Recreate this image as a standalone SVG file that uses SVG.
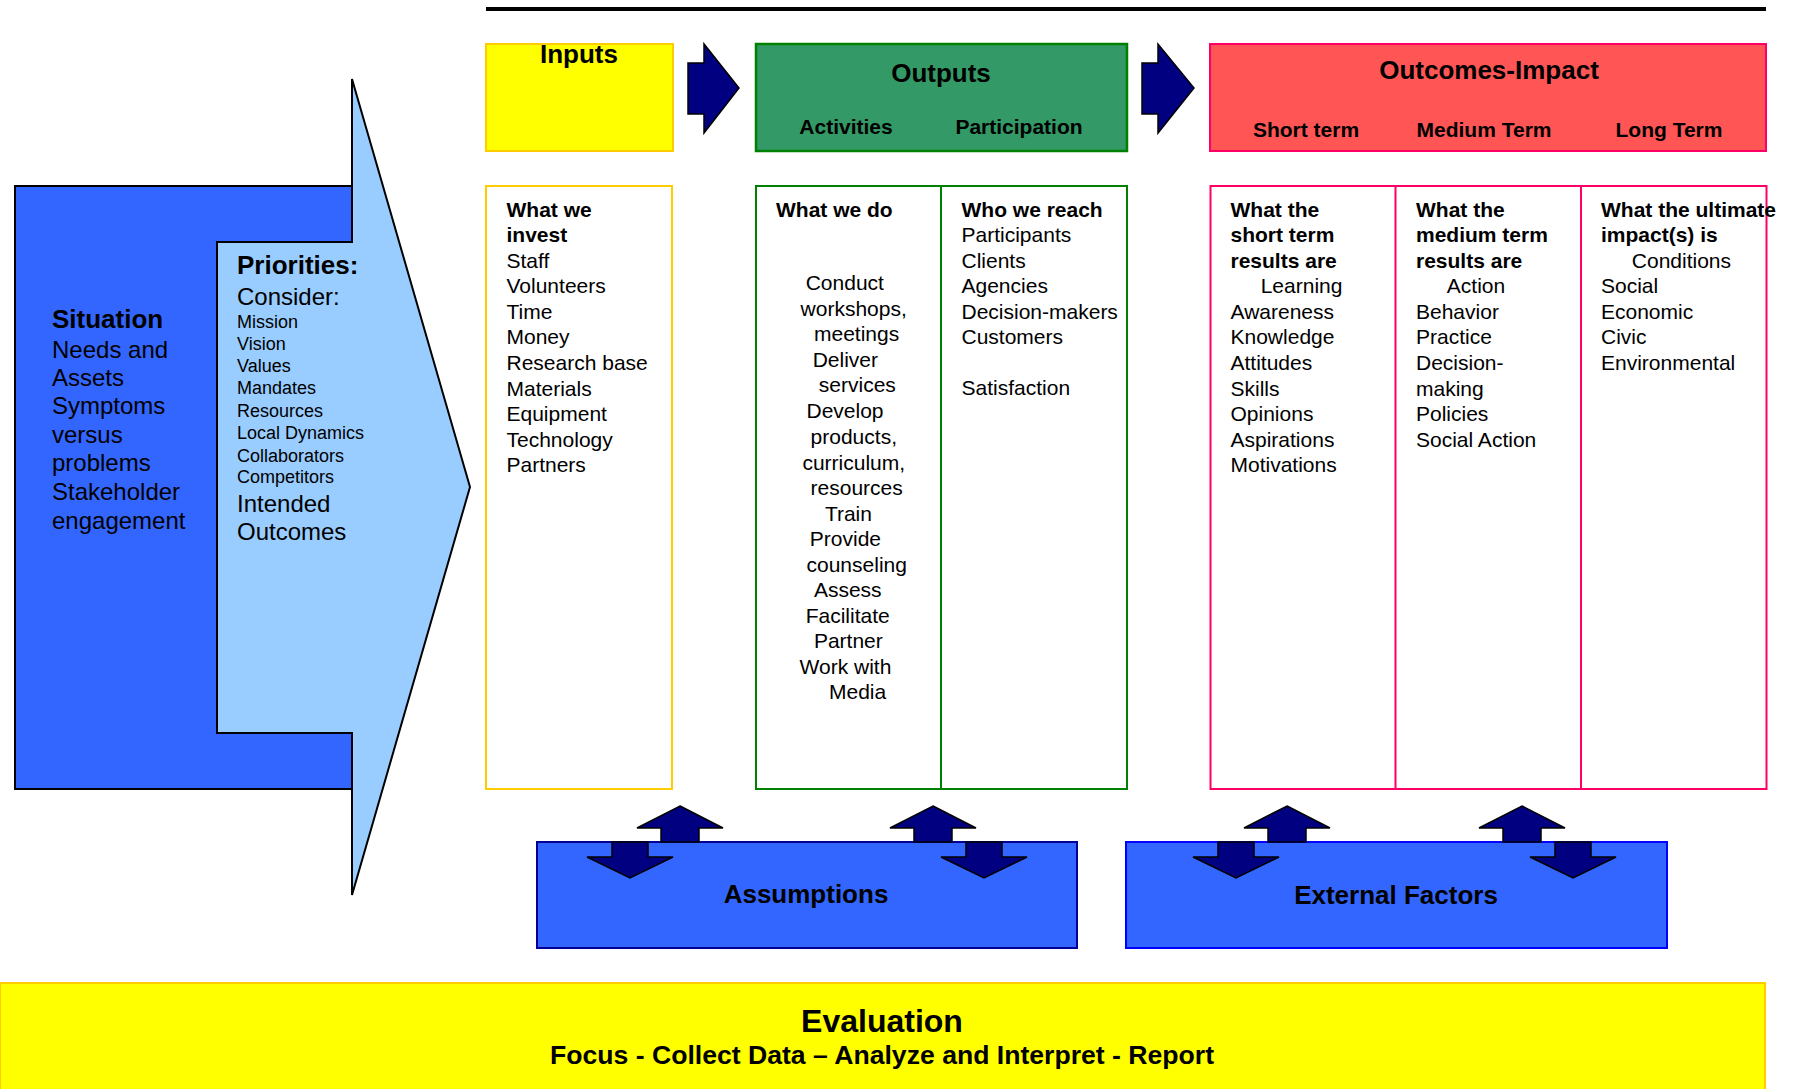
<svg xmlns="http://www.w3.org/2000/svg" xmlns:xlink="http://www.w3.org/1999/xlink" width="1797" height="1089" viewBox="0 0 1797 1089">
<style>
text { font-family: "Liberation Sans", Arial, sans-serif; fill: #000; }
.b { font-weight: bold; }
.h { font-size: 26px; font-weight: bold; text-anchor: middle; }
.sh { font-size: 21px; font-weight: bold; text-anchor: middle; }
.body { font-size: 21px; }
.arr { fill: #000080; stroke: #000; stroke-width: 1.5; stroke-linejoin: miter; }
</style>
<defs>
<path id="upA" d="M0,0 L43,22 L19,22 L19,36 L-19,36 L-19,22 L-43,22 Z"/>
<path id="dnA" d="M-18,0 L18,0 L18,15 L43,15 L0,36 L-43,15 L-18,15 Z"/>
</defs>
<rect width="1797" height="1089" fill="#fff"/>
<line x1="486" y1="9" x2="1766" y2="9" stroke="#000" stroke-width="4"/>

<g id="situation">
<rect x="15" y="186" width="337" height="603" fill="#3366FF" stroke="#000" stroke-width="2"/>
<text x="52" y="328" class="b" font-size="26">Situation</text>
<text font-size="24">
<tspan x="52" y="358">Needs and</tspan>
<tspan x="52" y="386">Assets</tspan>
<tspan x="52" y="414">Symptoms</tspan>
<tspan x="52" y="443">versus</tspan>
<tspan x="52" y="471">problems</tspan>
<tspan x="52" y="500">Stakeholder</tspan>
<tspan x="52" y="529">engagement</tspan>
</text>
</g>

<g id="priorities">
<polygon points="352,79 470,487 352,895 352,733 217,733 217,242 352,242" fill="#99CCFF" stroke="#000" stroke-width="2" stroke-linejoin="miter"/>
<text x="237" y="274" class="b" font-size="26">Priorities:</text>
<text x="237" y="305" font-size="24">Consider:</text>
<text font-size="18">
<tspan x="237" y="328">Mission</tspan>
<tspan x="237" y="350">Vision</tspan>
<tspan x="237" y="372">Values</tspan>
<tspan x="237" y="394">Mandates</tspan>
<tspan x="237" y="417">Resources</tspan>
<tspan x="237" y="439">Local Dynamics</tspan>
<tspan x="237" y="462">Collaborators</tspan>
<tspan x="237" y="483">Competitors</tspan>
</text>
<text font-size="24">
<tspan x="237" y="512">Intended</tspan>
<tspan x="237" y="540">Outcomes</tspan>
</text>
</g>

<g id="inputs-header">
<rect x="486" y="44" width="187" height="107" fill="#FFFF00" stroke="#FFCC00" stroke-width="2"/>
<text x="579" y="63" class="h">Inputs</text>
</g>

<g id="outputs-header">
<rect x="756" y="44" width="371" height="107" fill="#339966" stroke="#008000" stroke-width="2.5"/>
<text x="941" y="82" class="h">Outputs</text>
<text x="846" y="134" class="sh">Activities</text>
<text x="1019" y="134" class="sh">Participation</text>
</g>

<g id="outcomes-header">
<rect x="1210" y="44" width="556" height="107" fill="#FF5555" stroke="#FF0066" stroke-width="2"/>
<text x="1489" y="79" class="h">Outcomes-Impact</text>
<text x="1306" y="137" class="sh">Short term</text>
<text x="1484" y="137" class="sh">Medium Term</text>
<text x="1669" y="137" class="sh">Long Term</text>
</g>

<g id="inputs-detail">
<rect x="486" y="186" width="186" height="603" fill="#fff" stroke="#FFCC00" stroke-width="2"/>
<text class="body">
<tspan x="506.5" y="216.5" class="b">What we</tspan>
<tspan x="506.5" y="242" class="b">invest</tspan>
<tspan x="506.5" y="267.5">Staff</tspan>
<tspan x="506.5" y="293.3">Volunteers</tspan>
<tspan x="506.5" y="318.5">Time</tspan>
<tspan x="506.5" y="344.3">Money</tspan>
<tspan x="506.5" y="370">Research base</tspan>
<tspan x="506.5" y="395.7">Materials</tspan>
<tspan x="506.5" y="421">Equipment</tspan>
<tspan x="506.5" y="446.7">Technology</tspan>
<tspan x="506.5" y="472.3">Partners</tspan>
</text>
</g>

<g id="outputs-detail">
<rect x="756" y="186" width="371" height="603" fill="#fff" stroke="#008000" stroke-width="2"/>
<line x1="941" y1="186" x2="941" y2="789" stroke="#008000" stroke-width="2"/>
<text class="body">
<tspan x="776" y="216.5" class="b">What we do</tspan>
<tspan x="805.7" y="290">Conduct</tspan>
<tspan x="800.6" y="315.5">workshops,</tspan>
<tspan x="814" y="341">meetings</tspan>
<tspan x="812.7" y="366.7">Deliver</tspan>
<tspan x="818.8" y="392.3">services</tspan>
<tspan x="806.5" y="417.8">Develop</tspan>
<tspan x="810.6" y="444.3">products,</tspan>
<tspan x="802.4" y="470">curriculum,</tspan>
<tspan x="810.6" y="495">resources</tspan>
<tspan x="824.9" y="520.7">Train</tspan>
<tspan x="809.8" y="545.7">Provide</tspan>
<tspan x="806.5" y="571.7">counseling</tspan>
<tspan x="813.9" y="597.3">Assess</tspan>
<tspan x="805.7" y="623.3">Facilitate</tspan>
<tspan x="813.9" y="648.3">Partner</tspan>
<tspan x="799.6" y="674">Work with</tspan>
<tspan x="829" y="699.3">Media</tspan>
</text>
<text class="body">
<tspan x="961.5" y="216.5" class="b">Who we reach</tspan>
<tspan x="961.5" y="242">Participants</tspan>
<tspan x="961.5" y="267.5">Clients</tspan>
<tspan x="961.5" y="293.3">Agencies</tspan>
<tspan x="961.5" y="318.5">Decision-makers</tspan>
<tspan x="961.5" y="344.3">Customers</tspan>
<tspan x="961.5" y="395">Satisfaction</tspan>
</text>
</g>

<g id="outcomes-detail">
<rect x="1210.5" y="186" width="556" height="603" fill="#fff" stroke="#FF0066" stroke-width="2"/>
<line x1="1395.5" y1="186" x2="1395.5" y2="789" stroke="#FF0066" stroke-width="2"/>
<line x1="1581" y1="186" x2="1581" y2="789" stroke="#FF0066" stroke-width="2"/>
<text class="body">
<tspan x="1230.5" y="216.5" class="b">What the</tspan>
<tspan x="1230.5" y="242" class="b">short term</tspan>
<tspan x="1230.5" y="267.5" class="b">results are</tspan>
<tspan x="1260.7" y="293.3">Learning</tspan>
<tspan x="1230.5" y="318.5">Awareness</tspan>
<tspan x="1230.5" y="344.3">Knowledge</tspan>
<tspan x="1230.5" y="370">Attitudes</tspan>
<tspan x="1230.5" y="395.7">Skills</tspan>
<tspan x="1230.5" y="421">Opinions</tspan>
<tspan x="1230.5" y="446.7">Aspirations</tspan>
<tspan x="1230.5" y="472.3">Motivations</tspan>
</text>
<text class="body">
<tspan x="1416" y="216.5" class="b">What the</tspan>
<tspan x="1416" y="242" class="b">medium term</tspan>
<tspan x="1416" y="267.5" class="b">results are</tspan>
<tspan x="1446.8" y="293.3">Action</tspan>
<tspan x="1416" y="318.5">Behavior</tspan>
<tspan x="1416" y="344.3">Practice</tspan>
<tspan x="1416" y="370">Decision-</tspan>
<tspan x="1416" y="395.7">making</tspan>
<tspan x="1416" y="421">Policies</tspan>
<tspan x="1416" y="446.7">Social Action</tspan>
</text>
<text class="body">
<tspan x="1601" y="216.5" class="b">What the ultimate</tspan>
<tspan x="1601" y="242" class="b">impact(s) is</tspan>
<tspan x="1631.8" y="267.5">Conditions</tspan>
<tspan x="1601" y="293.3">Social</tspan>
<tspan x="1601" y="318.5">Economic</tspan>
<tspan x="1601" y="344.3">Civic</tspan>
<tspan x="1601" y="370">Environmental</tspan>
</text>
</g>

<g id="assumptions">
<rect x="537" y="842" width="540" height="106" fill="#3366FF" stroke="#000099" stroke-width="2"/>
<text x="806" y="903" class="h">Assumptions</text>
</g>

<g id="external-factors">
<rect x="1126" y="842" width="541" height="106" fill="#3366FF" stroke="#0000FF" stroke-width="2"/>
<text x="1396" y="904" class="h">External Factors</text>
</g>

<g id="evaluation">
<rect x="0" y="983" width="1765" height="120" fill="#FFFF00" stroke="#FFCC00" stroke-width="2"/>
<text x="882" y="1032" class="b" font-size="32" text-anchor="middle">Evaluation</text>
<text x="882" y="1064" class="b" font-size="25" text-anchor="middle" textLength="664" lengthAdjust="spacingAndGlyphs">Focus - Collect Data – Analyze and Interpret - Report</text>
</g>

<g id="connectors">
<polygon class="arr" points="688,63 704,63 704,44 739,88 704,133 704,114 688,114"/>
<polygon class="arr" points="1142,63 1158,63 1158,44 1194,88 1158,133 1158,114 1142,114"/>
<use xlink:href="#upA" class="arr" transform="translate(680,806)"/>
<use xlink:href="#dnA" class="arr" transform="translate(630,842)"/>
<use xlink:href="#upA" class="arr" transform="translate(933,806)"/>
<use xlink:href="#dnA" class="arr" transform="translate(984,842)"/>
<use xlink:href="#upA" class="arr" transform="translate(1287,806)"/>
<use xlink:href="#dnA" class="arr" transform="translate(1236,842)"/>
<use xlink:href="#upA" class="arr" transform="translate(1522,806)"/>
<use xlink:href="#dnA" class="arr" transform="translate(1573,842)"/>
</g>
</svg>
